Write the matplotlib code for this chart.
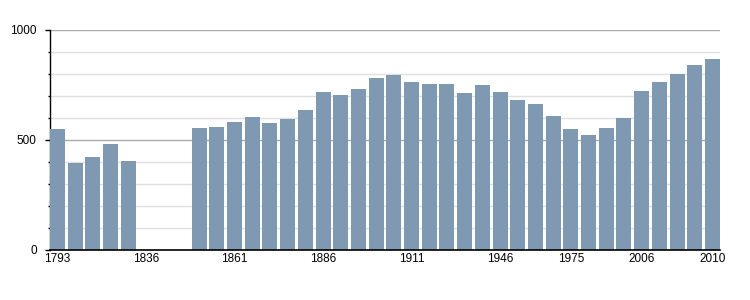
import numpy as np
import matplotlib.pyplot as plt
from matplotlib.ticker import MultipleLocator

plt.rcParams['font.family'] = ['Liberation Sans', 'DejaVu Sans']

# census years (one slot each) and population, None = no data
years = [1793, 1800, 1806, 1821, 1831, 1836, 1841, 1846, 1851, 1856,
         1861, 1866, 1872, 1876, 1881, 1886, 1891, 1896, 1901, 1906,
         1911, 1921, 1926, 1931, 1936, 1946, 1954, 1962, 1968, 1975,
         1982, 1990, 1999, 2006, 2007, 2008, 2009, 2010]
population = [550, 395, 423, 482, 405, None, None, None, 555, 559,
              582, 605, 577, 595, 636, 718, 705, 732, 782, 795,
              764, 755, 755, 714, 750, 718, 682, 664, 609, 550,
              523, 555, 600, 723, 764, 800, 841, 868]
shown_labels = [1793, 1836, 1861, 1886, 1911, 1946, 1975, 2006, 2010]

BAR_COLOR = '#7f99b2'
BAR_W = 0.85

fig = plt.figure(figsize=(7.5, 3), dpi=100)
ax = fig.add_axes([50 / 750, 50 / 300, 670 / 750, 220 / 300])

x = np.arange(len(years))
vals = [v if v is not None else 0 for v in population]
ax.bar(x, vals, width=BAR_W, color=BAR_COLOR, zorder=3)

# first bar starts on the axis, last bar ends at the right edge
ax.set_xlim(-BAR_W / 2, len(years) - 1 + BAR_W / 2)
ax.set_ylim(0, 1000)

# gridlines: light every 100, darker every 500
for v in range(100, 1001, 100):
    if v % 500 == 0:
        ax.axhline(v, color='#aaaaaa', lw=1, zorder=1)
    else:
        ax.axhline(v, color='#e0e0e0', lw=1, zorder=1)

ax.yaxis.set_major_locator(MultipleLocator(500))
ax.yaxis.set_minor_locator(MultipleLocator(100))
ax.tick_params(axis='y', which='major', length=3.6, width=1, color='black',
               labelsize=8.5, pad=6)
ax.tick_params(axis='y', which='minor', length=1.5, width=1, color='black')

ticks = [years.index(y) for y in shown_labels]
ax.set_xticks(ticks)
ax.set_xticklabels([str(y) for y in shown_labels])
ax.tick_params(axis='x', length=0, labelsize=8.5, pad=2)

for s in ['top', 'right']:
    ax.spines[s].set_visible(False)
ax.spines['left'].set_color('black')
ax.spines['bottom'].set_color('black')
ax.spines['left'].set_linewidth(1)
ax.spines['bottom'].set_linewidth(1.2)
ax.spines['bottom'].set_zorder(4)

fig.savefig('out.png', dpi=100)
